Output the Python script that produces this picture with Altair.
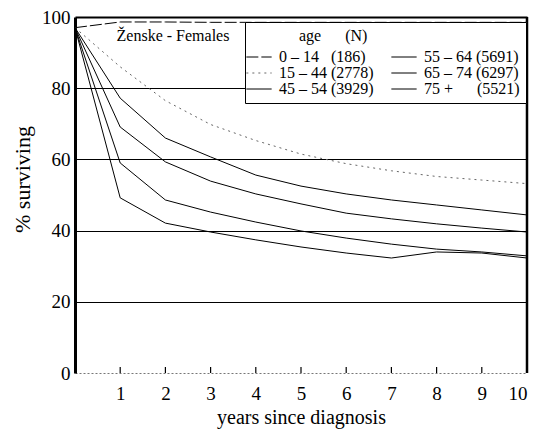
import altair as alt
import pandas as pd

# ---- data ----
years = [0, 1, 2, 3, 4, 5, 6, 7, 8, 9, 10]
age_groups = ["0 – 14", "15 – 44", "45 – 54", "55 – 64", "65 – 74", "75 +"]
counts = ["(186)", "(2778)", "(3929)", "(5691)", "(6297)", "(5521)"]

surv_0_14 = [97, 98.6, 98.6, 98.5, 98.5, 98.5, 98.5, 98.5, 98.5, 98.5, 98.5]
surv_15_44 = [97, 86.0, 76.5, 69.8, 65.3, 61.5, 58.8, 56.8, 55.2, 54.2, 53.2]
surv_45_54 = [97, 77.2, 66.0, 60.7, 55.6, 52.5, 50.3, 48.6, 47.2, 45.8, 44.4]
surv_55_64 = [97, 69.1, 59.3, 53.9, 50.3, 47.5, 44.9, 43.3, 41.9, 40.7, 39.6]
surv_65_74 = [97, 59.0, 48.6, 45.2, 42.4, 39.9, 37.9, 36.2, 34.8, 34.0, 32.9]
surv_75_up = [97, 49.2, 42.1, 39.6, 37.4, 35.4, 33.7, 32.3, 34.0, 33.7, 32.3]

series = [surv_0_14, surv_15_44, surv_45_54, surv_55_64, surv_65_74, surv_75_up]

x_ticks = [1, 2, 3, 4, 5, 6, 7, 8, 9, 10]
y_ticks = [0, 20, 40, 60, 80, 100]

NB = "\u00a0"
labels = [
    "0 – 14" + NB * 3 + "(186)",
    "15 – 44" + NB + "(2778)",
    "45 – 54" + NB + "(3929)",
    "55 – 64 (5691)",
    "65 – 74 (6297)",
    "75 +" + NB * 6 + "(5521)",
]

rows = []
for lab, vals in zip(labels, series):
    for yr, v in zip(years, vals):
        rows.append({"year": yr, "value": v, "group": lab})
df = pd.DataFrame(rows)

order = labels
colors = ["black", "#666666", "black", "black", "black", "black"]
dashes = [[12, 3], [2, 4], [], [], [], []]
widths = [1.0, 1.0, 1.5, 1.7, 2.0, 1.9]

FONT = "Liberation Serif"
leg_title = "\u200b" + NB * 12 + "age" + NB * 6 + "(N)"

legend = alt.Legend(
    orient="none", legendX=170, legendY=5, columns=2,
    symbolType="M-2,0H2", symbolSize=160, labelOffset=12,
    labelFont=FONT, labelFontSize=16, labelColor="black", labelLimit=300,
    titleFont=FONT, titleFontSize=16, titleFontWeight="normal", titleColor="black",
    titlePadding=5, fillColor="white", strokeColor="black", padding=6,
    columnPadding=15, rowPadding=-1,
)

lines = alt.Chart(df).mark_line(interpolate="linear").encode(
    x=alt.X("year:Q", scale=alt.Scale(domain=[0, 10], nice=False),
            axis=alt.Axis(values=x_ticks, title="years since diagnosis", grid=False,
                          domain=False, ticks=False, labelPadding=11,
                          labelFont=FONT, labelFontSize=19, labelColor="black",
                          labelAlign={"condition": {"test": "datum.value === 10", "value": "right"}, "value": "center"},
                          labelOverlap=False, labelBound=False,
                          titleFont=FONT, titleFontSize=20, titleFontWeight="normal",
                          titleColor="black", titlePadding=4)),
    y=alt.Y("value:Q", scale=alt.Scale(domain=[0, 100], nice=False),
            axis=alt.Axis(values=y_ticks, title="% surviving", grid=True,
                          gridColor={"condition": {"test": "datum.value === 0", "value": "#777777"}, "value": "black"},
                          gridDash={"condition": {"test": "datum.value === 0", "value": [2, 2]}, "value": []},
                          gridWidth={"condition": {"test": "datum.value === 100", "value": 2}, "value": 1},
                          domainColor="black", domainWidth=3, ticks=False, labelPadding=5,
                          labelFont=FONT, labelFontSize=19, labelColor="black",
                          titleFont=FONT, titleFontSize=22, titleFontWeight="normal",
                          titleColor="black", titleX=-46, titleY=162, titleBaseline="alphabetic")),
    color=alt.Color("group:N", sort=order, title=leg_title,
                    scale=alt.Scale(domain=order, range=colors), legend=legend),
    strokeDash=alt.StrokeDash("group:N", sort=order, title=leg_title,
                              scale=alt.Scale(domain=order, range=dashes), legend=legend),
    strokeWidth=alt.StrokeWidth("group:N", sort=order, title=leg_title,
                                scale=alt.Scale(domain=order, range=widths), legend=legend),
)

right_border = alt.Chart(pd.DataFrame({"x": [10]})).mark_rule(color="black", strokeWidth=2.5).encode(
    x="x:Q"
)

tick_df = pd.DataFrame({"year": x_ticks[:-1]})
ticks = alt.Chart(tick_df).mark_rule(color="black", strokeWidth=1.2).encode(
    x="year:Q", y=alt.value(356), y2=alt.value(350)
)

caption = alt.Chart(pd.DataFrame({"t": ["Ženske - Females"]})).mark_text(
    font=FONT, fontSize=16, color="black", align="center", baseline="middle"
).encode(text="t:N", x=alt.value(98), y=alt.value(19))

chart = alt.layer(lines, right_border, ticks, caption).properties(
    width=452, height=356,
    autosize=alt.AutoSizeParams(type="none"),
    padding={"left": 75, "top": 17, "right": 7, "bottom": 59},
).configure_view(stroke=None)

chart.save("out.html", embed_options={"renderer": "svg", "actions": False})
